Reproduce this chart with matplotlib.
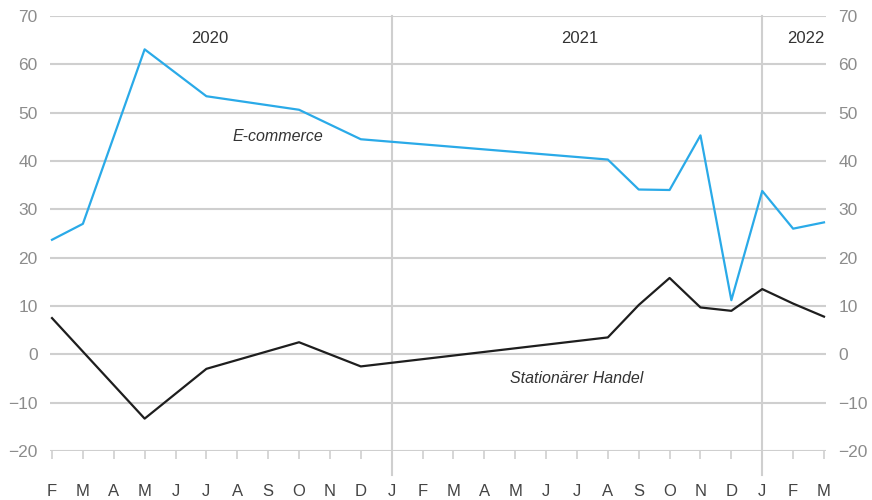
import matplotlib
matplotlib.use("Agg")
import matplotlib.pyplot as plt
from matplotlib import font_manager

months = ["F", "M", "A", "M", "J", "J", "A", "S", "O", "N", "D", "J",
          "F", "M", "A", "M", "J", "J", "A", "S", "O", "N", "D", "J", "F", "M"]
years = ["2020", "2021", "2022"]
year_label_pos = [5.1, 17.1, 24.4]
year_breaks = [11, 23]

# month index (0 = Feb 2020) of each vertex
ecom_idx = [0, 1, 3, 5, 8, 10, 18, 19, 20, 21, 22, 23, 24, 25]
ecom_val = [23.7, 27.0, 63.1, 53.4, 50.6, 44.5, 40.3, 34.1, 34.0, 45.3, 11.2, 33.8, 26.0, 27.3]
stat_idx = [0, 3, 5, 8, 10, 18, 19, 20, 21, 22, 23, 24, 25]
stat_val = [7.5, -13.3, -3.0, 2.5, -2.5, 3.5, 10.2, 15.8, 9.7, 9.0, 13.5, 10.5, 7.8]

names = {f.name for f in font_manager.fontManager.ttflist}
fam = "Liberation Sans Narrow" if "Liberation Sans Narrow" in names else "Liberation Sans"
plt.rcParams["font.family"] = [fam, "DejaVu Sans"]

fig = plt.figure(figsize=(8.72, 5.0), dpi=100)
ax = fig.add_axes([50 / 872, 1 - 451 / 500, 776 / 872, 435 / 500])

grid_c = "#cfcfcf"
for y in range(-20, 71, 10):
    ax.axhline(y, color=grid_c, lw=1.5, zorder=1)
for b in year_breaks:
    ax.axvline(b, ymin=-0.055, ymax=1.0, color=grid_c, lw=1.5, zorder=1, clip_on=False)

ax.plot(ecom_idx, ecom_val, color="#2aaae8", lw=1.6, zorder=3)
ax.plot(stat_idx, stat_val, color="#1e1e1e", lw=1.6, zorder=3)

ax.text(7.3, 45.0, "E-commerce", style="italic", fontsize=11.5, color="#333333",
        ha="center", va="center")
ax.text(17.0, -5.0, "Stationärer Handel", style="italic", fontsize=11.5, color="#333333",
        ha="center", va="center")

for lab, x in zip(years, year_label_pos):
    ax.text(x, 65.3, lab, fontsize=12, color="#333333", ha="center", va="center")

ax.set_xlim(-0.065, 25.065)
ax.set_ylim(-20, 70)
for s in ax.spines.values():
    s.set_visible(False)

ax.set_xticks(range(len(months)))
ax.set_xticklabels(months, fontsize=12, color="#444444")
ax.tick_params(axis="x", length=6, width=1.2, color=grid_c, pad=18)

ax.set_yticks(range(-20, 71, 10))
ax.set_yticklabels([str(v).replace("-", "\u2212") for v in range(-20, 71, 10)],
                   fontsize=12.5, color="#8c8c8c")
ax.tick_params(axis="y", length=0, pad=9, labelleft=True, labelright=True)

fig.savefig("out.png", dpi=100)
